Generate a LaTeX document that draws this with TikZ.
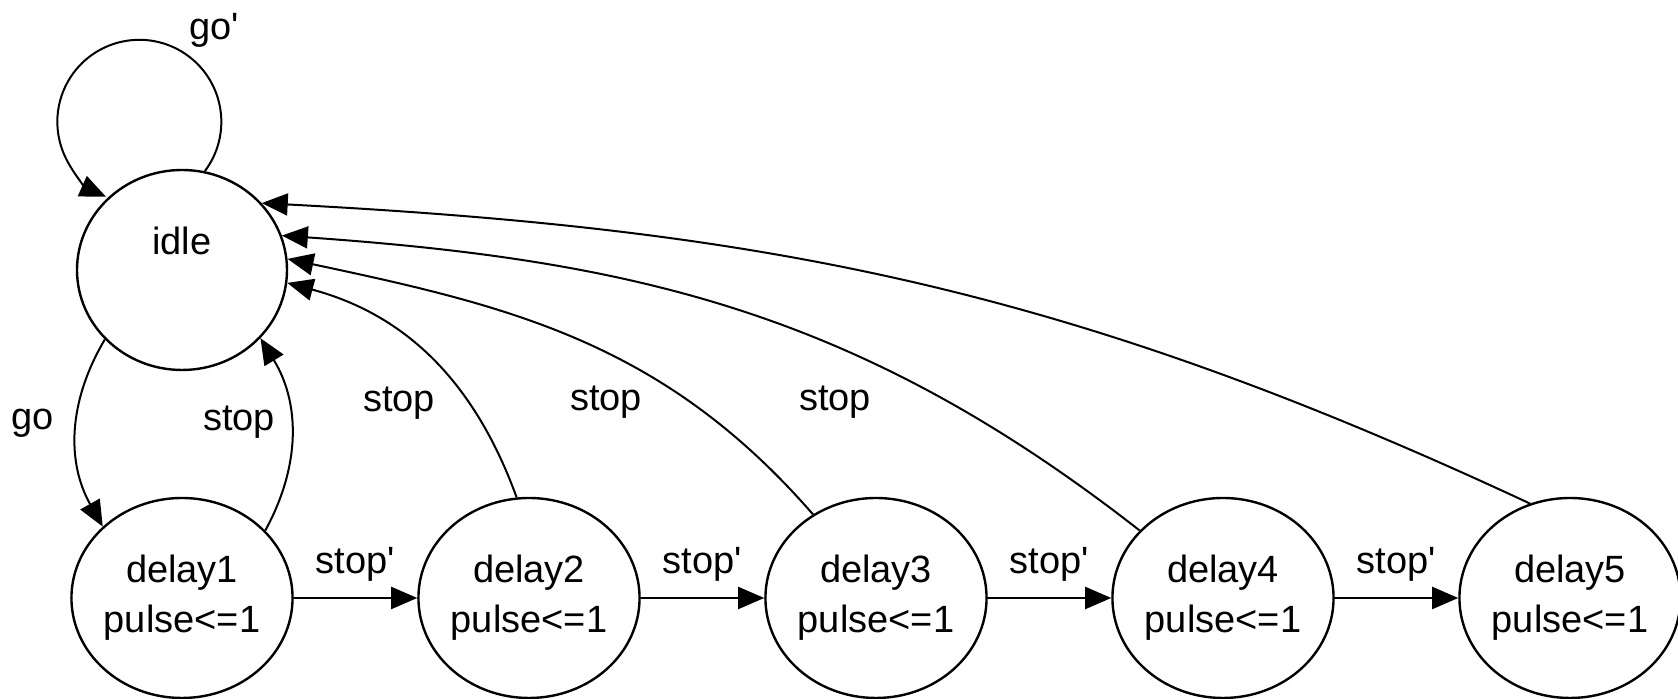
\documentclass[tikz,border=0pt]{standalone}
\usepackage{fontspec}
\setmainfont{Liberation Sans}
\usetikzlibrary{arrows.meta,shapes.geometric}
\begin{document}
\begin{tikzpicture}[x=0.5pt,y=0.5pt,
   font=\fontsize{19}{25}\selectfont,
   fsm/.style={ellipse,draw,line width=1.2pt,minimum width=105pt,minimum height=100pt,inner sep=0pt,align=center},
   trans/.style={line width=1pt,-{Triangle[length=13pt,width=11pt]}},
   cond/.style={inner sep=1pt}]
   \useasboundingbox (0,0) rectangle (1678,699);
   % States
   \node[fsm,text height=14pt,text depth=29pt] (idle) at (182,429) {idle};
   \node[fsm] (d1) at (182,101) {delay1\\pulse<=1};
   \node[fsm] (d2) at (529,101) {delay2\\pulse<=1};
   \node[fsm] (d3) at (876,101) {delay3\\pulse<=1};
   \node[fsm] (d4) at (1223,101) {delay4\\pulse<=1};
   \node[fsm] (d5) at (1570,101) {delay5\\pulse<=1};
   % Idle
   \draw[trans] (idle.77) arc[start angle=-37,end angle=246,radius=41pt];
   \node[cond] (lwait) at (214,669) {go\textquotesingle};
   \draw[trans] (idle.222) to[bend right=30] (d1.138);
   \node[cond] (lgo) at (33,276) {go};
   \draw[trans] (d1.39) to[bend right=30] (idle.-41);
   \node[cond] (lback1) at (239,277) {stop};
   % Chain
   \draw[trans] (d1) -- node[cond,above=7pt] (lnext1) {stop\textquotesingle} (d2);
   \draw[trans] (d2) -- node[cond,above=7pt] (lnext2) {stop\textquotesingle} (d3);
   \draw[trans] (d3) -- node[cond,above=7pt] (lnext3) {stop\textquotesingle} (d4);
   \draw[trans] (d4) -- node[cond,above=7pt] (lnext4) {stop\textquotesingle} (d5);
   % Back to idle
   \draw[trans] (d2.97) to[out=110,in=-15] (idle.-7);
   \node[cond] (lback2) at (399,296) {stop};
   \draw[trans] (d3.127) to[out=131,in=-12] (idle.6);
   \node[cond] (lback3) at (606,297) {stop};
   \draw[trans] (d4.141) to[out=142,in=-4] (idle.19);
   \node[cond] (lback4) at (835,297) {stop};
   \draw[trans] (d5.113) to[out=155,in=-3] (idle.40);
 \end{tikzpicture}
\end{document}
